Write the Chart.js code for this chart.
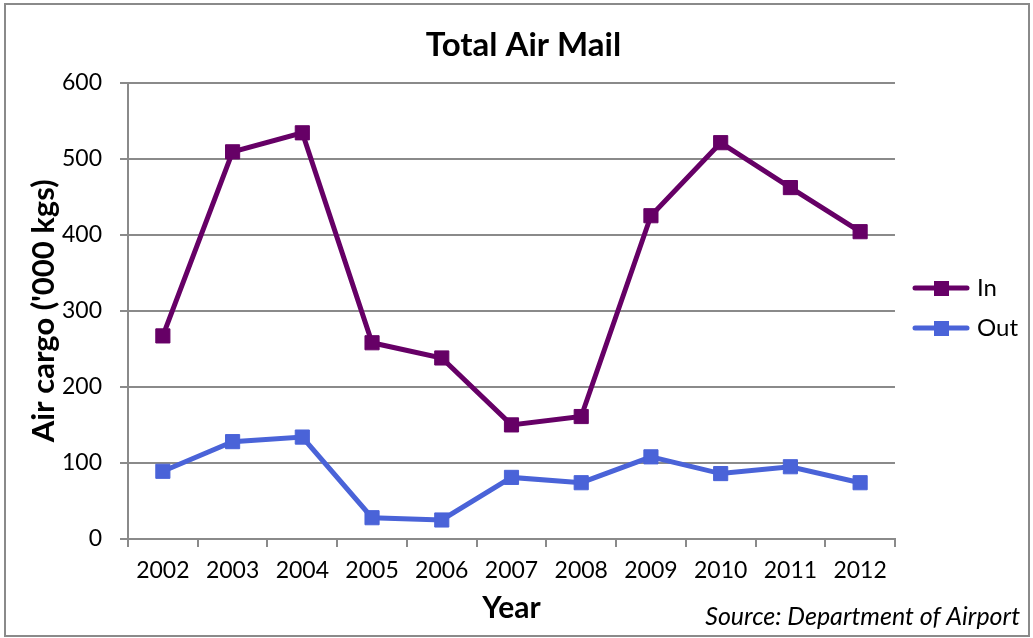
<!DOCTYPE html>
<html>
<head>
<meta charset="utf-8">
<script src="https://cdn.jsdelivr.net/npm/chart.js@4.4.1/dist/chart.umd.min.js"></script>
<style>
  html, body { margin: 0; padding: 0; background: #fff; }
  #wrap { width: 1033px; height: 638px; }
</style>
</head>
<body>
<div id="wrap"><canvas id="chart"></canvas></div>
<script>
// data
const years = ['2002', '2003', '2004', '2005', '2006', '2007', '2008', '2009', '2010', '2011', '2012'];
const mailIn = [267, 509, 534, 258, 238, 150, 161, 425, 521, 462, 404];
const mailOut = [89, 128, 134, 28, 25, 81, 74, 108, 86, 95, 74];
const seriesNames = ['In', 'Out'];
const seriesColors = ['#660066', '#4a63d8'];

const FONT = 'Lato, "Open Sans", sans-serif';
const AXIS_GREY = '#8a8a8a';

// little line + square swatch, like the legend keys in the picture
function legendSwatch(color) {
    const c = document.createElement('canvas');
    c.width = 58;
    c.height = 16;
    const g = c.getContext('2d');
    g.strokeStyle = color;
    g.lineWidth = 5;
    g.lineCap = 'round';
    g.beginPath();
    g.moveTo(3, 8);
    g.lineTo(55, 8);
    g.stroke();
    g.fillStyle = color;
    g.fillRect(22, 1, 15, 15);
    return c;
}

// outer frame, source note, and nudge the legend a little
const framePlugin = {
    id: 'frame',
    afterLayout(chart) {
        const lg = chart.legend;
        if (lg) {
            lg.top -= 15;
            lg.bottom -= 15;
            lg.left += 6;
            lg.right += 6;
        }
    },
    beforeDraw(chart) {
        const ctx = chart.ctx;
        ctx.save();
        ctx.fillStyle = '#fff';
        ctx.fillRect(0, 0, chart.width, chart.height);
        ctx.strokeStyle = AXIS_GREY;
        ctx.lineWidth = 2;
        ctx.strokeRect(5, 4, chart.width - 9, chart.height - 6);
        ctx.restore();
    },
    afterDraw(chart) {
        const ctx = chart.ctx;
        ctx.save();
        ctx.fillStyle = '#000';
        ctx.font = 'italic 25px ' + FONT;
        ctx.textAlign = 'right';
        ctx.textBaseline = 'middle';
        ctx.fillText('Source: Department of Airport', chart.width - 13, chart.height - 21);
        ctx.restore();
    }
};

function makeDataset(label, values, color) {
    return {
        label: label,
        data: values,
        borderColor: color,
        backgroundColor: color,
        borderWidth: 5,
        pointStyle: 'rect',
        pointRadius: 10,
        pointBorderWidth: 1,
        pointBackgroundColor: color,
        pointBorderColor: color,
        tension: 0,
        fill: false
    };
}

new Chart(document.getElementById('chart'), {
    type: 'line',
    data: {
        labels: years,
        datasets: [
            makeDataset(seriesNames[0], mailIn, seriesColors[0]),
            makeDataset(seriesNames[1], mailOut, seriesColors[1])
        ]
    },
    options: {
        responsive: true,
        maintainAspectRatio: false,
        animation: false,
        layout: {
            padding: { top: 20, bottom: 12, left: 25, right: 11 }
        },
        plugins: {
            title: {
                display: true,
                text: 'Total Air Mail',
                color: '#000',
                font: { family: FONT, size: 33, weight: 'bold' },
                padding: { top: 6, bottom: 17 }
            },
            legend: {
                position: 'right',
                labels: {
                    color: '#000',
                    font: { family: FONT, size: 24 },
                    usePointStyle: true,
                    pointStyleWidth: 48,
                    padding: 16,
                    generateLabels(chart) {
                        return chart.data.datasets.map((ds, i) => ({
                            text: ds.label,
                            fillStyle: ds.borderColor,
                            strokeStyle: ds.borderColor,
                            lineWidth: 0,
                            pointStyle: legendSwatch(ds.borderColor),
                            hidden: false,
                            datasetIndex: i
                        }));
                    }
                }
            },
            tooltip: { enabled: false }
        },
        scales: {
            x: {
                offset: true,
                afterFit(scale) { scale.height = 87; },
                grid: {
                    offset: true,
                    drawOnChartArea: false,
                    drawTicks: true,
                    tickLength: 8,
                    color: AXIS_GREY,
                    lineWidth: 2
                },
                border: { color: AXIS_GREY, width: 2 },
                ticks: {
                    color: '#000',
                    font: { family: FONT, size: 23 },
                    padding: 10,
                    maxRotation: 0
                },
                title: {
                    display: true,
                    text: 'Year',
                    color: '#000',
                    font: { family: FONT, size: 30, weight: 'bold' },
                    padding: { top: 5, bottom: 0 }
                }
            },
            y: {
                min: 0,
                max: 600,
                afterFit(scale) { scale.width = 103; },
                ticks: {
                    stepSize: 100,
                    color: '#000',
                    font: { family: FONT, size: 23 },
                    padding: 18
                },
                grid: {
                    color: AXIS_GREY,
                    lineWidth: 2,
                    drawTicks: true,
                    tickLength: 8
                },
                border: { color: AXIS_GREY, width: 2 },
                title: {
                    display: true,
                    text: "Air cargo ('000 kgs)",
                    color: '#000',
                    font: { family: FONT, size: 31, weight: 'bold' },
                    padding: { top: 0, bottom: 2 }
                }
            }
        }
    },
    plugins: [framePlugin]
});
</script>
</body>
</html>
